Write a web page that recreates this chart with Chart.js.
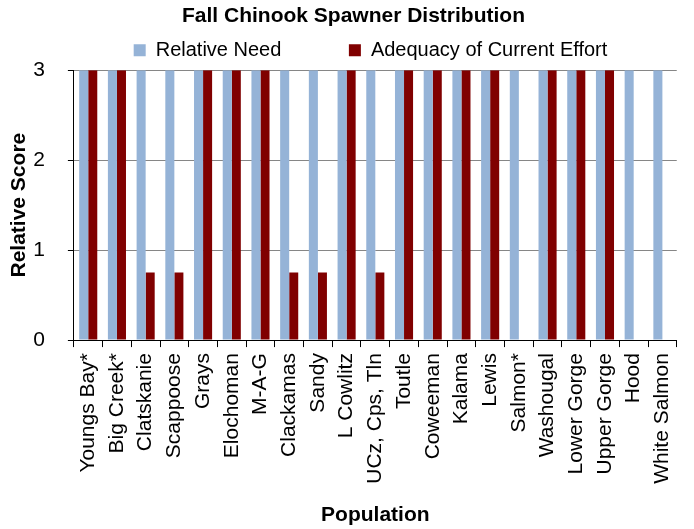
<!DOCTYPE html>
<html>
<head>
<meta charset="utf-8">
<script src="https://cdn.jsdelivr.net/npm/chart.js@4"></script>
<style>
  html, body { margin: 0; padding: 0; background: #fff; }
  #wrap { width: 694px; height: 529px; }
</style>
</head>
<body>
<div id="wrap"><canvas id="spawnerChart"></canvas></div>
<script>
// Data
const populations = [
    'Youngs Bay*', 'Big Creek*', 'Clatskanie', 'Scappoose', 'Grays', 'Elochoman', 'M-A-G',
    'Clackamas', 'Sandy', 'L Cowlitz', 'UCz, Cps, Tln', 'Toutle', 'Coweeman', 'Kalama',
    'Lewis', 'Salmon*', 'Washougal', 'Lower Gorge', 'Upper Gorge', 'Hood', 'White Salmon'
];
const relativeNeed = [3, 3, 3, 3, 3, 3, 3, 3, 3, 3, 3, 3, 3, 3, 3, 3, 3, 3, 3, 3, 3];
const adequacy = [3, 3, 0.75, 0.75, 3, 3, 3, 0.75, 0.75, 3, 0.75, 3, 3, 3, 3, 0, 3, 3, 3, 0, 0];
const yTicks = [0, 1, 2, 3];

Chart.defaults.font.family = '"Liberation Sans", Arial, sans-serif';
Chart.defaults.color = '#000';

const ctx = document.getElementById('spawnerChart').getContext('2d');
const spawnerChart = new Chart(ctx, {
    type: 'bar',
    data: {
        labels: populations,
        datasets: [
            {
                label: 'Relative Need',
                data: relativeNeed,
                backgroundColor: '#95B3D7',
                borderWidth: 0
            },
            {
                label: 'Adequacy of Current Effort',
                data: adequacy,
                backgroundColor: '#800000',
                borderWidth: 0
            }
        ]
    },
    options: {
        responsive: true,
        maintainAspectRatio: false,
        animation: false,
        layout: { padding: { left: 30, right: 17, top: 0, bottom: 0 } },
        datasets: {
            bar: { categoryPercentage: 0.63, barPercentage: 1.0 }
        },
        plugins: {
            title: {
                display: true,
                text: 'Fall Chinook Spawner Distribution',
                font: { size: 21, weight: 'bold' },
                padding: { top: 4, bottom: -1 }
            },
            legend: {
                position: 'top',
                labels: {
                    boxWidth: 12,
                    boxHeight: 12,
                    font: { size: 20 },
                    padding: 12,
                    generateLabels: (chart) => {
                        const items = Chart.defaults.plugins.legend.labels.generateLabels(chart);
                        // jarak antar item seperti di gambar
                        items[0].text = items[0].text + '          ';
                        // item kosong di depan supaya legend bergeser ke kanan
                        const spacer = {
                            text: '',
                            fillStyle: 'rgba(0,0,0,0)',
                            strokeStyle: 'rgba(0,0,0,0)',
                            lineWidth: 0,
                            hidden: false
                        };
                        return [spacer, ...items];
                    }
                }
            },
            tooltip: { enabled: false }
        },
        scales: {
            x: {
                grid: {
                    display: true,
                    drawOnChartArea: false,
                    color: '#000',
                    tickLength: 7,
                    offset: true
                },
                border: { color: '#000', width: 1 },
                ticks: {
                    minRotation: 90,
                    maxRotation: 90,
                    autoSkip: false,
                    font: { size: 21 },
                    padding: 6
                },
                title: {
                    display: true,
                    text: 'Population',
                    font: { size: 21, weight: 'bold' },
                    padding: { top: 13, bottom: 1 }
                }
            },
            y: {
                min: 0,
                max: 3,
                afterBuildTicks: (axis) => {
                    axis.ticks = yTicks.map(v => ({ value: v }));
                },
                grid: {
                    color: '#868686',
                    tickColor: '#000',
                    tickLength: 6
                },
                border: { color: '#000', width: 1 },
                ticks: {
                    font: { size: 21 },
                    padding: 23
                },
                title: {
                    display: true,
                    text: 'Relative Score',
                    font: { size: 21, weight: 'bold' },
                    // padding negatif: judul sumbu ditarik ke tepi kiri
                    padding: { top: -23, bottom: -22 }
                }
            }
        }
    }
});
</script>
</body>
</html>
